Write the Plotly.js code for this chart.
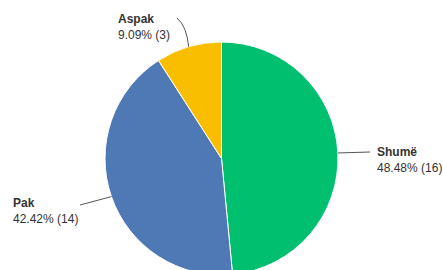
<!DOCTYPE html>
<html><head><meta charset="utf-8">
<script src="https://cdn.plot.ly/plotly-3.0.1.min.js"></script>
<style>html,body{margin:0;padding:0;overflow:hidden;background:#fff}#chart{width:443px;height:280px}</style>
</head><body><div id="chart"></div>
<script>
const labels = ["Shumë", "Pak", "Aspak"];
const values = [16, 14, 3];
const colors = ["#00BF6F", "#4E79B5", "#F9BE00"];

const W = 443, H = 280;
const cx = 221.5, cy = 158.5, r = 116.5;
const px = x => x / W, py = y => 1 - y / H;

const total = values.reduce((a, b) => a + b, 0);
// label block centres / anchors (layout only)
const labelPos = [
  {x: 375, y: 160, end: [370, 152]},
  {x: 11, y: 211, end: [80, 205]},
  {x: 116, y: 27, end: [177, 18]}
];

let cum = 0;
const annotations = [], shapes = [];
values.forEach((v, i) => {
  const mid = (cum + v / 2) / total * 2 * Math.PI;
  cum += v;
  const sx = cx + r * Math.sin(mid), sy = cy - r * Math.cos(mid);
  const pct = (v / total * 100).toFixed(2);
  const lp = labelPos[i];
  annotations.push({
    xref: 'paper', yref: 'paper', x: px(lp.x), y: py(lp.y),
    xanchor: 'left', yanchor: 'middle', align: 'left', showarrow: false,
    text: '<b>' + labels[i] + '</b><br>' + pct + '% (' + values[i] + ')',
    font: {family: 'Liberation Sans, Arial, sans-serif', size: 12, color: '#333'}
  });
  const [ex, ey] = lp.end;
  let path;
  if (i === 2) {
    path = `M${px(sx)},${py(sy)} Q${px(sx - 2)},${py(ey + 8)} ${px(ex)},${py(ey)}`;
  } else {
    path = `M${px(sx)},${py(sy)} L${px(ex)},${py(ey)}`;
  }
  shapes.push({type: 'path', xref: 'paper', yref: 'paper', path: path,
    line: {color: '#555', width: 1}});
});

Plotly.newPlot('chart', [{
  type: 'pie', labels: labels, values: values, sort: false, direction: 'clockwise',
  rotation: 0, textinfo: 'none', hoverinfo: 'none',
  marker: {colors: colors, line: {color: '#fff', width: 1}},
  domain: {x: [(cx - r) / W, (cx + r) / W], y: [(H - cy - r) / H, (H - cy + r) / H]}
}], {
  width: W, height: H, margin: {l: 0, r: 0, t: 0, b: 0},
  showlegend: false, paper_bgcolor: '#fff',
  annotations: annotations, shapes: shapes
}, {displayModeBar: false, staticPlot: true});
</script></body></html>
